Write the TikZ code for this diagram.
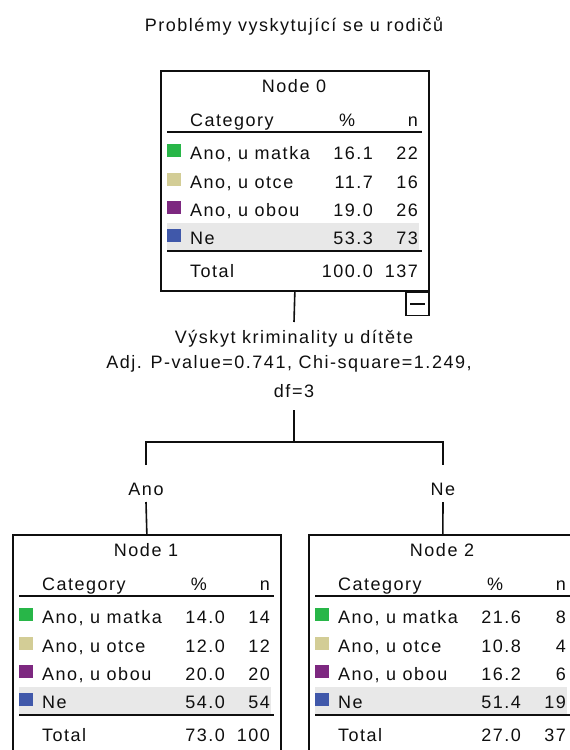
\documentclass[tikz,border=0pt]{standalone}
\usepackage{fontspec}
\setmainfont{Liberation Sans}[LetterSpace=8.5]
\definecolor{cgreen}{RGB}{40,182,72}
\definecolor{cbeige}{RGB}{211,205,150}
\definecolor{cpurple}{RGB}{125,40,128}
\definecolor{cblue}{RGB}{64,88,170}
\definecolor{cband}{RGB}{232,232,232}
\definecolor{ink}{RGB}{15,15,15}
\newcommand\catrow[6]{% #1 prefix, #2 baseline y, #3 colour, #4 label, #5 pct, #6 n
  \fill[#3] (7,#2-15) rectangle (21,#2-2);
  \node[txt,anchor=base west] (#1-l) at (30,#2) {#4};
  \node[txt,anchor=base east] (#1-p) at (213,#2) {#5};
  \node[txt,anchor=base east] (#1-n) at (258,#2) {#6};
}
\newcommand\treetable[4]{% #1 prefix, #2 title, #3 total pct, #4 total n
  \fill[cband] (7,153) rectangle (259,180);
  \node[txt,anchor=base] (#1-t) at (134,22) {#2};
  \node[txt,anchor=base west] (#1-hc) at (30,56) {Category};
  \node[txt,anchor=base] (#1-hp) at (187,56) {\%};
  \node[txt,anchor=base east] (#1-hn) at (258,56) {n};
  \draw[rulel] (7,62) -- (262,62);
  \draw[rulel] (7,181) -- (262,181);
  \node[txt,anchor=base west] (#1-tl) at (30,207) {Total};
  \node[txt,anchor=base east] (#1-tp) at (213,207) {#3};
  \node[txt,anchor=base east] (#1-tn) at (258,207) {#4};
}
\begin{document}
\begin{tikzpicture}[x=1pt,y=-1pt,
  txt/.style={inner sep=0pt,outer sep=0pt,text=ink,font=\fontsize{18}{20}\selectfont},
  frame/.style={draw=ink,line width=1.7pt,anchor=north west,minimum width=268pt,inner sep=0pt},
  conn/.style={draw=ink,line width=1.6pt},
  rulel/.style={draw=ink,line width=2pt}]
\useasboundingbox (0,0) rectangle (570,750);
\clip (0,0) rectangle (570,750);

\node[txt,anchor=base] (title) at (294,31) {Problémy vyskytující se u rodičů};

% frames
\node[frame,minimum height=220pt] (n0) at (160,70) {};
\node[frame,minimum height=226pt] (n1) at (12,534) {};
\node[frame,minimum height=226pt] (n2) at (308,534) {};

\begin{scope}[shift={(160,70)}]
  \treetable{a}{Node 0}{100.0}{137}
  \catrow{a1}{89}{cgreen}{Ano, u matka}{16.1}{22}
  \catrow{a2}{118}{cbeige}{Ano, u otce}{11.7}{16}
  \catrow{a3}{146}{cpurple}{Ano, u obou}{19.0}{26}
  \catrow{a4}{174}{cblue}{Ne}{53.3}{73}
\end{scope}

\begin{scope}[shift={(12,534)}]
  \treetable{b}{Node 1}{73.0}{100}
  \catrow{b1}{89}{cgreen}{Ano, u matka}{14.0}{14}
  \catrow{b2}{118}{cbeige}{Ano, u otce}{12.0}{12}
  \catrow{b3}{146}{cpurple}{Ano, u obou}{20.0}{20}
  \catrow{b4}{174}{cblue}{Ne}{54.0}{54}
\end{scope}

\begin{scope}[shift={(308,534)}]
  \treetable{c}{Node 2}{27.0}{37}
  \catrow{c1}{89}{cgreen}{Ano, u matka}{21.6}{8}
  \catrow{c2}{118}{cbeige}{Ano, u otce}{10.8}{4}
  \catrow{c3}{146}{cpurple}{Ano, u obou}{16.2}{6}
  \catrow{c4}{174}{cblue}{Ne}{51.4}{19}
\end{scope}

% collapse toggle
\node[draw=ink,line width=1.4pt,minimum width=23pt,minimum height=23pt,inner sep=0pt,anchor=north east] (toggle) at (n0.south east) {};
\draw[ink,line width=1.5pt] ([xshift=5pt]toggle.west) -- ([xshift=-5pt]toggle.east);

% split label
\node[txt,anchor=base] (s1) at (294,343) {Výskyt kriminality u dítěte};
\node[txt,anchor=base] (s2) at (289,368) {Adj. P-value=0.741, Chi-square=1.249,};
\node[txt,anchor=base] (s3) at (294,397) {df=3};

\coordinate (c0) at (294,322);
\coordinate (c1) at (294,410);
\coordinate (fork) at (294,442);
\coordinate (bl) at (146,465);
\coordinate (br) at (443,465);
\coordinate (al) at (146,502);
\coordinate (ar) at (443,502);

\draw[conn] (n0.south) -- (c0);
\draw[conn] (c1) -- (fork);
\draw[conn] (bl) |- (fork) -| (br);

\node[txt,anchor=base] (ano) at (146,495) {Ano};
\node[txt,anchor=base] (ne) at (443,495) {Ne};

\draw[conn] (al) -- (n1.north);
\draw[conn] (ar) -- (n2.north);
\end{tikzpicture}
\end{document}
